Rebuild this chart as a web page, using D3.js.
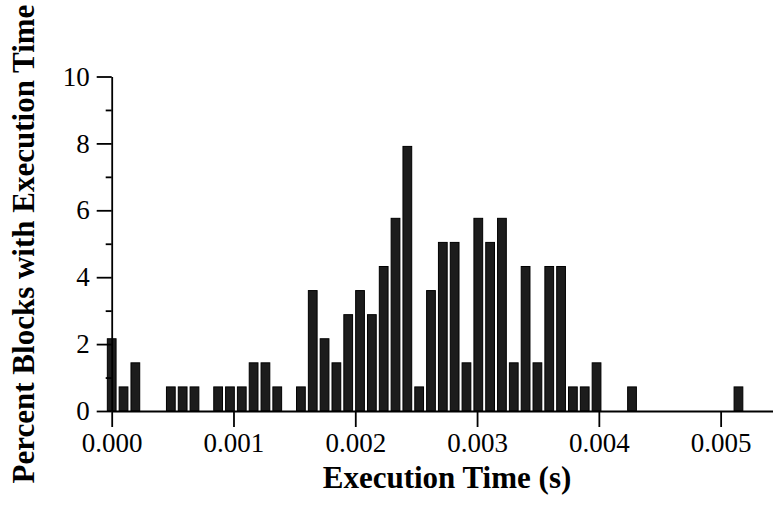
<!DOCTYPE html>
<html>
<head>
<meta charset="utf-8">
<script src="https://cdn.jsdelivr.net/npm/d3@7"></script>
<style>
    body { margin: 0; background: #fff; }
    .tick text { font-family: "Liberation Serif", "Times New Roman", serif; }
    .axis-title { font-family: "Liberation Serif", "Times New Roman", serif; font-weight: bold; }
</style>
</head>
<body>
<div id="chart"></div>
<script>

// bin centres (s) and percent of blocks in each bin
let binTimes = [0.0000000, 0.0000971, 0.0001942, 0.0004855, 0.0005826, 0.0006797, 0.0008739,
    0.0009710, 0.0010681, 0.0011652, 0.0012623, 0.0013594, 0.0015536, 0.0016507, 0.0017478,
    0.0018449, 0.0019420, 0.0020391, 0.0021362, 0.0022333, 0.0023304, 0.0024275, 0.0025246,
    0.0026217, 0.0027188, 0.0028159, 0.0029130, 0.0030101, 0.0031072, 0.0032043, 0.0033014,
    0.0033985, 0.0034956, 0.0035927, 0.0036898, 0.0037869, 0.0038840, 0.0039811, 0.0042724,
    0.0051463];
let percents = [2.16, 0.72, 1.44, 0.72, 0.72, 0.72, 0.72,
    0.72, 0.72, 1.44, 1.44, 0.72, 0.72, 3.60, 2.16,
    1.44, 2.88, 3.60, 2.88, 4.32, 5.76, 7.91, 0.72,
    3.60, 5.04, 5.04, 1.44, 5.76, 5.04, 5.76, 1.44,
    4.32, 1.44, 4.32, 4.32, 0.72, 0.72, 1.44, 0.72,
    0.72];

let xTicks = [0, 0.001, 0.002, 0.003, 0.004, 0.005];
let yTicks = [0, 2, 4, 6, 8, 10];
let yMinorTicks = [1, 3, 5, 7, 9];

let binWidth = 0.0000971;

let width = 773, height = 505;
let margin = {top: 76.5, right: 0, bottom: 94, left: 111.7};

let svg = d3.select("#chart").append("svg")
    .attr("width", width)
    .attr("height", height);

let x = d3.scaleLinear()
    .domain([0, 0.00543])
    .range([margin.left, width - margin.right]);

let y = d3.scaleLinear()
    .domain([0, 10])
    .range([height - margin.bottom, margin.top]);

// bars
let barW = (x(binWidth) - x(0)) * 0.74;

svg.append("g")
    .selectAll("rect")
    .data(binTimes)
    .enter()
    .append("rect")
    .attr("x", d => x(d) - barW / 2)
    .attr("y", (d, i) => y(percents[i]))
    .attr("width", barW)
    .attr("height", (d, i) => y(0) - y(percents[i]))
    .attr("fill", "#1c1c1c")
    .attr("stroke", "#000")
    .attr("stroke-width", 1);

// x axis
let xAxis = d3.axisBottom(x)
    .tickValues(xTicks)
    .tickFormat(d3.format(".3f"))
    .tickSize(16)
    .tickSizeOuter(0)
    .tickPadding(6);

let xg = svg.append("g")
    .attr("transform", `translate(0, ${y(0)})`)
    .call(xAxis);

// y axis
let yAxis = d3.axisLeft(y)
    .tickValues(yTicks)
    .tickSize(15)
    .tickSizeOuter(0)
    .tickPadding(7);

let yg = svg.append("g")
    .attr("transform", `translate(${x(0)}, 0)`)
    .call(yAxis);

let ymg = svg.append("g")
    .attr("transform", `translate(${x(0)}, 0)`)
    .call(d3.axisLeft(y).tickValues(yMinorTicks).tickSize(6).tickSizeOuter(0).tickFormat(""));
ymg.select(".domain").remove();

[xg, yg, ymg].forEach(g => {
    g.selectAll("path, line").attr("stroke", "#000").attr("stroke-width", 1.8);
    g.selectAll("text").attr("font-size", 27).attr("fill", "#000");
});

// axis titles
svg.append("text")
    .attr("class", "axis-title")
    .attr("x", 447)
    .attr("y", 488)
    .attr("text-anchor", "middle")
    .attr("font-size", 31)
    .text("Execution Time (s)");

svg.append("text")
    .attr("class", "axis-title")
    .attr("transform", "translate(34, 244) rotate(-90)")
    .attr("text-anchor", "middle")
    .attr("font-size", 31)
    .text("Percent Blocks with Execution Time");

</script>
</body>
</html>
